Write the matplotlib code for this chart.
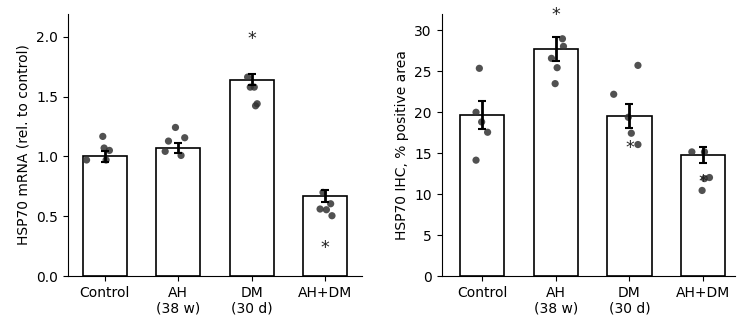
import matplotlib
matplotlib.use('Agg')
import matplotlib.pyplot as plt
import matplotlib.transforms as mtransforms
import numpy as np

groups = ['Control', 'AH\n(38 w)', 'DM\n(30 d)', 'AH+DM']

# left panel: HSP70 mRNA
mrna_mean = [1.00, 1.067, 1.641, 0.668]
mrna_sem = [0.045, 0.042, 0.045, 0.05]
mrna_pts = [
    [1.167, 1.07, 1.05, 0.97, 0.97],
    [1.242, 1.128, 1.156, 1.042, 1.008],
    [1.663, 1.579, 1.579, 1.44, 1.423],
    [0.699, 0.56, 0.604, 0.554, 0.504],
]
mrna_jit = [
    [-0.027, -0.009, 0.063, -0.248, 0.018],
    [-0.038, -0.133, 0.088, -0.178, 0.038],
    [-0.056, -0.02, 0.034, 0.074, 0.052],
    [-0.03, -0.07, 0.074, 0.016, 0.092],
]
mrna_star = [None, None, 2.01, 0.26]

# right panel: HSP70 IHC
ihc_mean = [19.63, 27.72, 19.55, 14.76]
ihc_sem = [1.7, 1.42, 1.48, 1.0]
ihc_pts = [
    [25.37, 20.0, 18.82, 17.56, 14.15],
    [28.98, 28.05, 26.59, 25.45, 23.5],
    [22.2, 25.73, 19.39, 17.44, 16.06],
    [15.16, 15.16, 11.9, 12.03, 10.45],
]
ihc_jit = [
    [-0.038, -0.083, -0.007, 0.074, -0.083],
    [0.09, 0.104, -0.059, 0.018, -0.009],
    [-0.214, 0.115, -0.016, 0.025, 0.115],
    [-0.153, 0.018, 0.018, 0.086, -0.014],
]
ihc_star = [None, 32.2, 16.0, 11.8]

plt.rcParams['font.size'] = 10

fig = plt.figure(figsize=(7.46, 3.23), dpi=100)
ax1 = fig.add_axes([0.0912, 0.1455, 0.394, 0.811])
ax2 = fig.add_axes([0.592, 0.1455, 0.393, 0.811])


def panel(ax, mean, sem, pts, jit, star, ylim, yticks, ylabel, fmt):
    x = np.arange(len(groups))
    ax.bar(x, mean, width=0.6, color='white', edgecolor='black', linewidth=1.2, zorder=1)
    for i in range(len(groups)):
        ax.scatter(x[i] + np.array(jit[i]), pts[i], s=27, color='#333333', alpha=0.85,
                   edgecolor='none', zorder=2)
    ax.errorbar(x, mean, yerr=sem, fmt='none', ecolor='black', elinewidth=2,
                capsize=3, capthick=1.5, zorder=3)
    # shift stars down a little, the glyph sits high in its box
    tr = mtransforms.offset_copy(ax.transData, fig=fig, y=-3, units='dots')
    for i, s in enumerate(star):
        if s is not None:
            ax.text(x[i], s, '*', ha='center', va='center', fontsize=12.5, color='#222222',
                    clip_on=False, zorder=4, transform=tr)
    ax.set_xlim(-0.5, 3.5)
    ax.set_ylim(*ylim)
    ax.set_yticks(yticks)
    ax.set_yticklabels([fmt.format(t) for t in yticks])
    ax.set_xticks(x)
    ax.set_xticklabels(groups)
    ax.set_ylabel(ylabel)
    ax.spines['top'].set_visible(False)
    ax.spines['right'].set_visible(False)


panel(ax1, mrna_mean, mrna_sem, mrna_pts, mrna_jit, mrna_star, (0, 2.19),
      [0, 0.5, 1.0, 1.5, 2.0], 'HSP70 mRNA (rel. to control)', '{:.1f}')
panel(ax2, ihc_mean, ihc_sem, ihc_pts, ihc_jit, ihc_star, (0, 32),
      [0, 5, 10, 15, 20, 25, 30], 'HSP70 IHC, % positive area', '{:.0f}')
ax2.set_xlim(-0.55, 3.43)

fig.savefig('out.png', dpi=100)
